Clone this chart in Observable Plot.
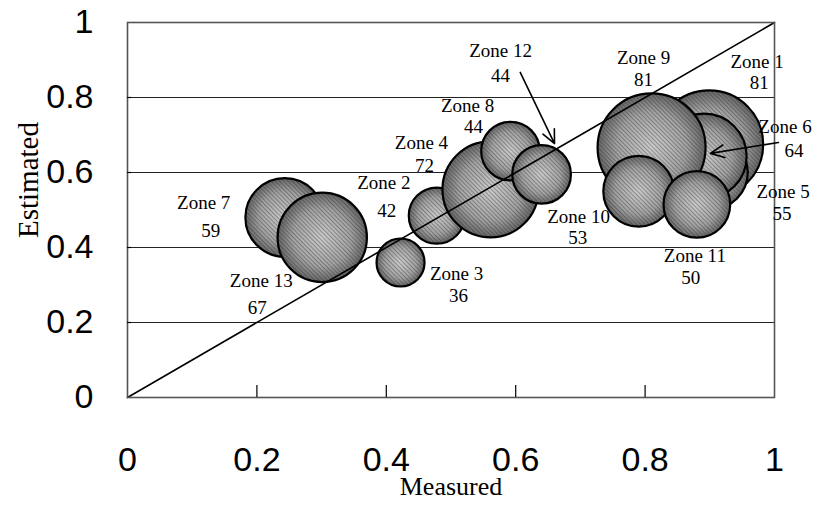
<!DOCTYPE html>
<html><head><meta charset="utf-8">
<script src="https://cdn.jsdelivr.net/npm/d3@7"></script>
<script src="https://cdn.jsdelivr.net/npm/@observablehq/plot@0.6"></script>
<style>body{margin:0;background:#fff}</style>
</head><body><div id="chart"></div>
<script>
// ---- data ----
const zones     = ["Zone 1","Zone 2","Zone 3","Zone 4","Zone 5","Zone 6","Zone 7","Zone 8","Zone 9","Zone 10","Zone 11","Zone 12","Zone 13"];
const measured  = [0.899, 0.478, 0.422, 0.561, 0.902, 0.891, 0.243, 0.592, 0.810, 0.790, 0.880, 0.640, 0.301];
const estimated = [0.675, 0.485, 0.360, 0.555, 0.600, 0.643, 0.480, 0.657, 0.667, 0.550, 0.515, 0.595, 0.427];
const sizes     = [81, 42, 36, 72, 55, 64, 59, 44, 81, 53, 50, 44, 67];
const xTicks = [0, 0.2, 0.4, 0.6, 0.8, 1];
const yTicks = [0, 0.2, 0.4, 0.6, 0.8, 1];
const diagonal = [0, 1];
// callout arrows (data units): from label to bubble
const calloutZones = ["Zone 12", "Zone 6"];
const calloutFromX = [0.607, 1.006];
const calloutFromY = [0.867, 0.680];
const calloutToX   = [0.660, 0.901];
const calloutToY   = [0.677, 0.651];

// ---- layout (pixel offsets of label lines from bubble centres) ----
const nameOffsets  = [[48,-82],[-53,-33],[56,11],[-69,-46],[72,19],[81,-29],[-81,-15],[-43,-45],[-8,-89],[-60,26],[-2,52],[-41,-123],[-61,44]];
const valueOffsets = [[50,-61],[-50,-5],[58,33],[-66,-23],[71,41],[90,-5],[-74,13],[-37,-24],[-8,-67],[-61,47],[-6,74],[-41,-98],[-65,71]];

const data = zones.map((z, i) => ({zone: z, x: measured[i], y: estimated[i], size: sizes[i]}));
const callouts = calloutZones.map((z, i) => ({zone: z, x1: calloutFromX[i], y1: calloutFromY[i], x2: calloutToX[i], y2: calloutToY[i]}));

const serif = "'Liberation Serif', 'Times New Roman', Times, serif";
const sans = "'Liberation Sans', Arial, Helvetica, sans-serif";

const bubbleMarks = data.flatMap(d => [
  Plot.dot([d], {x: "x", y: "y", r: "size", fill: "url(#bubbleGrad)", stroke: "none"}),
  Plot.dot([d], {x: "x", y: "y", r: "size", fill: "url(#hatch)", stroke: "black", strokeWidth: 2.2})
]);

const labelMarks = data.flatMap((d, i) => [
  Plot.text([d], {x: "x", y: "y", text: "zone", dx: nameOffsets[i][0], dy: nameOffsets[i][1], fontFamily: serif, fontSize: 19, fill: "black"}),
  Plot.text([d], {x: "x", y: "y", text: d => String(d.size), dx: valueOffsets[i][0], dy: valueOffsets[i][1], fontFamily: serif, fontSize: 19, fill: "black"})
]);

const chart = Plot.plot({
  width: 833, height: 506,
  marginLeft: 127, marginRight: 59, marginTop: 22, marginBottom: 109,
  x: {domain: [0, 1], label: null},
  y: {domain: [0, 1], label: null},
  r: {type: "linear", domain: [0, 81], range: [0, 54]},
  style: {fontFamily: sans, background: "white", overflow: "visible", color: "black"},
  marks: [
    Plot.ruleY(yTicks.filter(v => v > 0 && v < 1), {y: d => d, stroke: "#222", strokeWidth: 1}),
    ...bubbleMarks,
    Plot.line(diagonal, {x: d => d, y: d => d, stroke: "black", strokeWidth: 1.6}),
    Plot.frame({stroke: "#555", strokeWidth: 1.6}),
    Plot.tickX(xTicks.filter(v => v > 0 && v < 1), {x: d => d, insetTop: 363, stroke: "black", strokeWidth: 1.2}),
    Plot.tickY(yTicks.filter(v => v > 0 && v < 1), {y: d => d, insetRight: 643, stroke: "black", strokeWidth: 1.2}),
    Plot.axisX({ticks: xTicks, tickSize: 0, tickPadding: 49, fontSize: 34, tickFormat: d => String(d)}),
    Plot.axisY({ticks: yTicks, tickSize: 0, tickPadding: 34, fontSize: 34, tickFormat: d => String(d)}),
    Plot.text(["Measured"], {frameAnchor: "bottom", dy: 97, text: d => d, fontFamily: serif, fontSize: 26}),
    Plot.text(["Estimated"], {frameAnchor: "left", dx: -99, dy: 28, rotate: -90, text: d => d, fontFamily: serif, fontSize: 29}),
    ...labelMarks,
    Plot.arrow(callouts, {x1: "x1", y1: "y1", x2: "x2", y2: "y2", stroke: "black", strokeWidth: 1.6, headLength: 14, headAngle: 50})
  ]
});

// gradient + hatch definitions for bubble shading
const svg = d3.select(chart);
const defs = svg.insert("defs", ":first-child");
const g = defs.append("radialGradient").attr("id", "bubbleGrad");
g.append("stop").attr("offset", "0%").attr("stop-color", "#cccccc");
g.append("stop").attr("offset", "65%").attr("stop-color", "#a2a2a2");
g.append("stop").attr("offset", "100%").attr("stop-color", "#646464");
const p = defs.append("pattern").attr("id", "hatch").attr("patternUnits", "userSpaceOnUse")
  .attr("width", 3).attr("height", 3).attr("patternTransform", "rotate(-45)");
p.append("line").attr("x1", 0.5).attr("y1", 0).attr("x2", 0.5).attr("y2", 3)
  .attr("stroke", "#222").attr("stroke-opacity", 0.35).attr("stroke-width", 1);

document.getElementById("chart").appendChild(chart);
</script>
</body></html>
